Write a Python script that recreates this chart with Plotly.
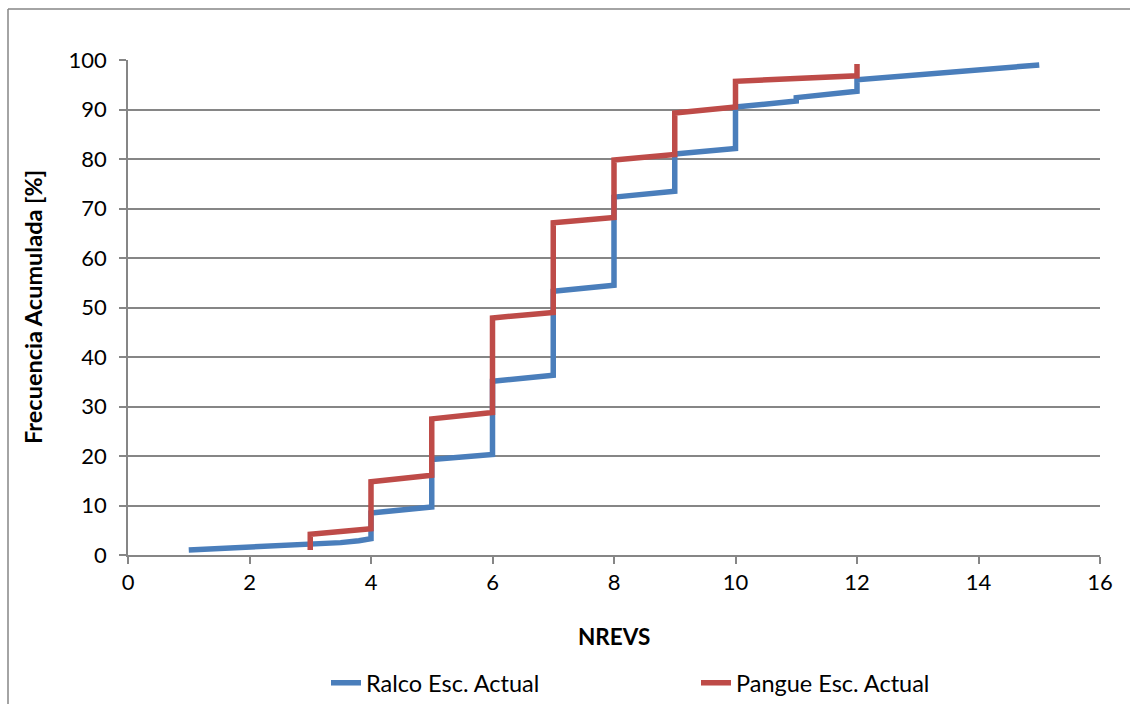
import plotly.graph_objects as go

# Ralco Esc. Actual (blue)
ralco_x = [1, 2, 3, 3.5, 3.8, 4, 4, 5, 5, 6, 6, 7, 7, 8, 8, 9, 9, 10, 10, 11, 11, 12, 12, 15]
ralco_y = [1.0, 1.6, 2.1, 2.5, 2.9, 3.3, 8.5, 9.7, 19.3, 20.3, 35.1, 36.3, 53.3, 54.5, 72.3, 73.5,
           81.0, 82.1, 90.5, 91.7, 92.4, 93.7, 96.0, 99.0]

# Pangue Esc. Actual (red)
pangue_x = [3, 3, 4, 4, 5, 5, 6, 6, 7, 7, 8, 8, 9, 9, 10, 10, 12, 12]
pangue_y = [1.0, 4.2, 5.3, 14.8, 16.1, 27.5, 28.8, 47.9, 49.0, 67.1, 68.2, 79.8, 80.9,
            89.3, 90.5, 95.7, 96.8, 99.2]

x_ticks = [0, 2, 4, 6, 8, 10, 12, 14, 16]
y_ticks = [0, 10, 20, 30, 40, 50, 60, 70, 80, 90, 100]

FONT = "Lato"
GRID = "#868686"

fig = go.Figure()
fig.add_trace(go.Scatter(x=ralco_x, y=ralco_y, mode="lines", name="Ralco Esc. Actual",
                         line=dict(color="#4A7EBB", width=5.5)))
fig.add_trace(go.Scatter(x=pangue_x, y=pangue_y, mode="lines", name="Pangue Esc. Actual",
                         line=dict(color="#BE4B48", width=5.5)))

L, R, T, B = 128, 30, 60, 149
W, H = 1130, 704
pw = W - L - R
ph = H - T - B

fig.update_layout(
    width=W, height=H,
    margin=dict(l=L, r=R, t=T, b=B, autoexpand=False),
    paper_bgcolor="white", plot_bgcolor="white",
    font=dict(family=FONT, size=22, color="black"),
    showlegend=True,
    legend=dict(orientation="h", x=(326 - L) / pw, xanchor="left",
                y=(T + ph - 683) / ph, yanchor="middle",
                entrywidth=325, font=dict(size=23.5, family=FONT)),
    xaxis=dict(range=[0, 16], tickvals=x_ticks, showgrid=False, zeroline=False,
               showline=True, linecolor=GRID, linewidth=1.5,
               ticks="outside", ticklen=7, tickcolor=GRID, tickwidth=1.5,
               tickfont=dict(size=22, family=FONT)),
    yaxis=dict(range=[0, 100], tickvals=y_ticks, showgrid=True, gridcolor=GRID, gridwidth=1.5,
               zeroline=False, showline=True, linecolor=GRID, linewidth=1.5,
               ticks="outside", ticklen=7, tickcolor=GRID, tickwidth=1.5,
               ticklabelstandoff=8,
               tickfont=dict(size=22, family=FONT)),
)

# axis titles
fig.add_annotation(text="<b>NREVS</b>", xref="paper", yref="paper", x=0.5,
                   y=(T + ph - 636) / ph, xanchor="center", yanchor="middle",
                   showarrow=False, font=dict(size=22.5, family=FONT))
fig.add_annotation(text="<b>Frecuencia Acumulada [%]</b>", xref="paper", yref="paper",
                   x=(33 - L) / pw, y=(T + ph - 307) / ph, xanchor="center", yanchor="middle",
                   textangle=-90, showarrow=False, font=dict(size=23.5, family=FONT))

# outer chart frame (top and left edges visible)
fx0 = (8 - L) / pw
fy1 = (T + ph - 9) / ph
fig.add_shape(type="line", xref="paper", yref="paper",
              x0=fx0, x1=(W + 10 - L) / pw, y0=fy1, y1=fy1,
              line=dict(color=GRID, width=1.5), layer="below")
fig.add_shape(type="line", xref="paper", yref="paper",
              x0=fx0, x1=fx0, y0=fy1, y1=(T + ph - (H + 10)) / ph,
              line=dict(color=GRID, width=1.5), layer="below")

fig.write_html("out.html")
